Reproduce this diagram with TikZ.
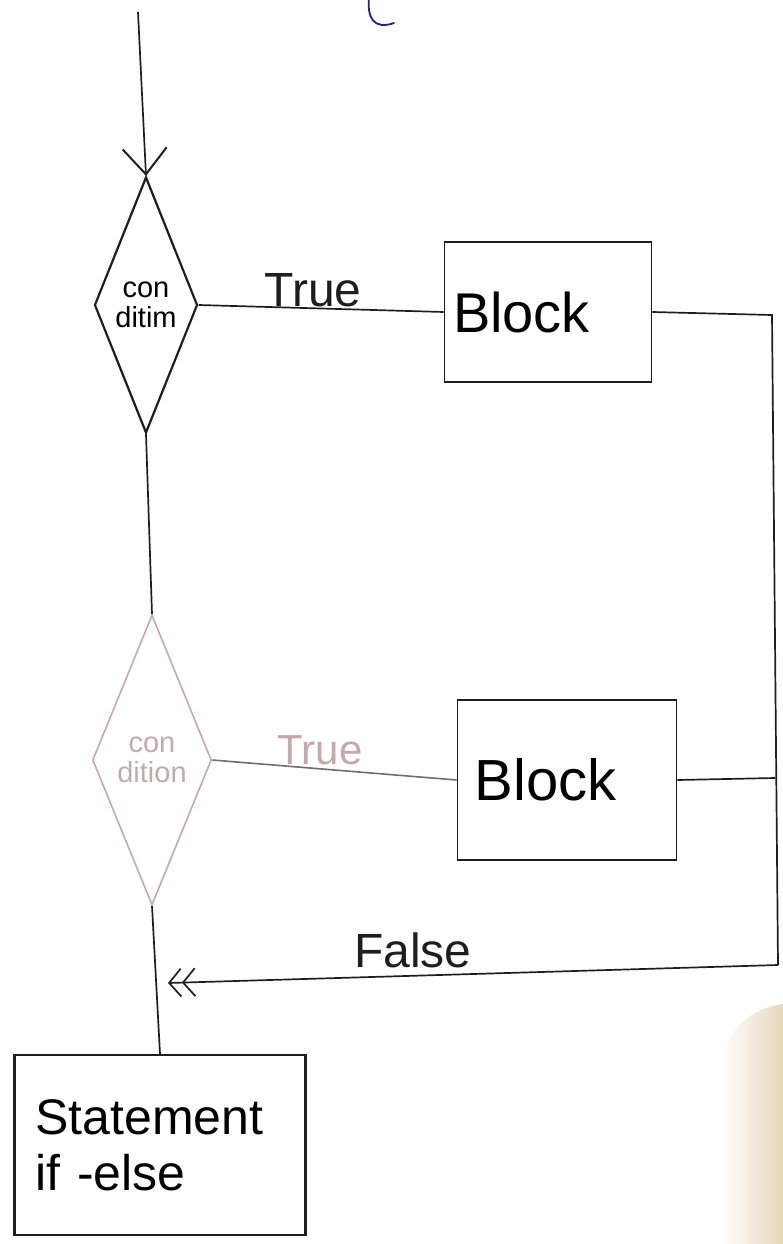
\documentclass[tikz,border=0pt]{standalone}
\usepackage{fontspec}
\setmainfont{Liberation Sans}
\usetikzlibrary{shapes.geometric,arrows.meta}
\definecolor{ink}{RGB}{30,30,30}
\definecolor{faint}{RGB}{195,170,170}
\definecolor{paleink}{RGB}{110,110,110}
\definecolor{penblue}{RGB}{30,30,140}
\definecolor{skin}{RGB}{232,214,188}

\begin{document}
\begin{tikzpicture}[x=1pt,y=-1pt,
  line/.style={draw=ink,line width=1.7pt},
  decision/.style={diamond,shape aspect=0.4,draw=ink,line width=2.2pt,inner sep=0pt,align=center,
    font=\fontsize{29}{30}\selectfont},
  blockbox/.style={rectangle,draw=ink,line width=1.8pt,align=left,
    font=\fontsize{56}{60}\selectfont},
  lbl/.style={font=\fontsize{48}{52}\selectfont,text=ink},
  barb/.style={-{Straight Barb[length=26pt,width=44pt,line width=2pt]}},
  dbarb/.style={-{Straight Barb[length=12pt,width=28pt] Straight Barb[length=12pt,width=28pt]}}]
\useasboundingbox (0,0) rectangle (783,1244);

% smudge in the lower right corner
\shade[left color=white,right color=skin]
  (722,1244) -- (722,1070) .. controls (724,1025) and (755,1008) .. (783,1004) -- (783,1244) -- cycle;

% pen mark at the top edge
\draw[penblue,line width=1.8pt,line cap=round] (369,-2) .. controls (367,18) and (374,30) .. (394,23);

% decisions
\node[decision,minimum width=103pt,minimum height=256pt] (d1) at (146,305) {con\\ditim};
\node[decision,draw=faint,text=faint,line width=1.6pt,minimum width=119pt,minimum height=290pt] (d2) at (152,760) {con\\dition};

% blocks
\node[blockbox,minimum height=140pt,text width=190pt,inner xsep=8.5pt] (b1) at (548,312) {Block};
\node[blockbox,minimum height=160pt,text width=185pt,inner xsep=17pt,
  font=\fontsize{58}{62}\selectfont] (b2) at (567,780) {Block};
\node[blockbox,line width=2.2pt,minimum height=180pt,text width=249pt,inner xsep=21pt,
  font=\fontsize{50}{56}\selectfont] (st) at (160,1145) {Statement\\if -else};

% helper points
\coordinate (top) at (138,12);
\coordinate (r1) at (772,315);
\coordinate (r2) at (778,965);
\coordinate (r3) at (775,778);
\coordinate (join) at (168,983);

% connectors
\draw[line,barb] (top) -- (d1.north);
\draw[line] (d1.east) -- (b1.west);
\draw[line] (d1.south) -- (d2.north);
\draw[draw=paleink,line width=1.6pt] (d2.east) -- (b2.west);
\draw[line] (d2.south) -- (st.north);
\draw[line] (b1.east) -- (r1) -- (r2);
\draw[line] (b2.east) -- (r3);
\draw[line,dbarb] (r2) -- (join);

% labels
\node[lbl] (t1) at (313,290) {True};
\node[lbl,text=faint,font=\fontsize{42}{46}\selectfont] (t2) at (320,750) {True};
\node[lbl] (f) at (413,950) {False};
\end{tikzpicture}
\end{document}
